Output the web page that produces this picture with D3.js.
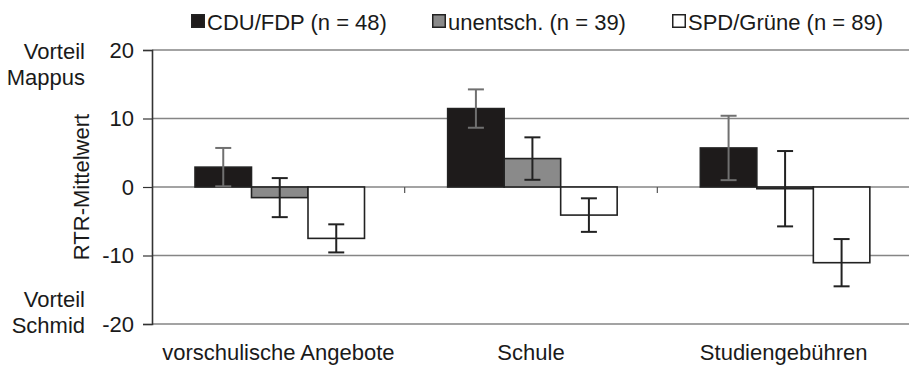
<!DOCTYPE html>
<html><head><meta charset="utf-8">
<script src="https://cdn.jsdelivr.net/npm/d3@7"></script>
<style>body{margin:0;background:#fff}svg{display:block}text{font-family:"Liberation Sans",Arial,sans-serif;fill:#1a1a1a}</style>
</head><body><svg id="c" width="909" height="366"></svg>
<script>
const categories = ["vorschulische Angebote", "Schule", "Studiengebühren"];
const seriesNames = ["CDU/FDP (n = 48)", "unentsch. (n = 39)", "SPD/Grüne (n = 89)"];
const cduValues = [2.9, 11.45, 5.7];
const cduErrors = [2.8, 2.8, 4.7];
const unentschValues = [-1.55, 4.15, -0.25];
const unentschErrors = [2.85, 3.1, 5.5];
const spdValues = [-7.5, -4.1, -11.05];
const spdErrors = [2.05, 2.45, 3.45];
const yTicks = [-20, -10, 0, 10, 20];
const yTickLabels = ["-20", "-10", "0", "10", "20"];

const fills = ["#1e1b1b", "#8a8a8a", "#ffffff"];
const errColors = ["#707070", "#222", "#222"];
const seriesVals = [cduValues, unentschValues, spdValues];
const seriesErrs = [cduErrors, unentschErrors, spdErrors];

const svg = d3.select("#c");
const y = d3.scaleLinear().domain([-20, 20]).range([324, 50]);
const x0 = d3.scaleBand().domain(categories).range([152, 910]).padding(0);
const x1 = d3.scaleBand().domain(seriesNames).range([43, 43 + 169.5]).padding(0);

// gridlines
svg.append("g").selectAll("line").data(yTicks).join("line")
  .attr("x1", 152).attr("x2", 909).attr("y1", d => y(d)).attr("y2", d => y(d))
  .attr("stroke", "#858585").attr("stroke-width", 1.4);

// y axis
const yAxis = d3.axisLeft(y).tickValues(yTicks).tickSize(9).tickPadding(9)
  .tickFormat((d, i) => yTickLabels[i]);
const ga = svg.append("g").attr("transform", "translate(152,0)").call(yAxis);
ga.select(".domain").attr("stroke", "#333").attr("stroke-width", 1.6);
ga.selectAll(".tick line").attr("stroke", "#333").attr("stroke-width", 1.2);
ga.selectAll(".tick text").style("font-size", "22px").attr("fill", "#1a1a1a")
  .style("font-family", "'Liberation Sans', Arial, sans-serif");

// category ticks on zero line
const bounds = categories.map(c => x0(c)).concat([x0(categories[2]) + x0.bandwidth()]);
svg.append("g").selectAll("line").data(bounds.slice(1, 3)).join("line")
  .attr("x1", d => d).attr("x2", d => d).attr("y1", y(0)).attr("y2", y(0) + 6)
  .attr("stroke", "#555").attr("stroke-width", 1.2);

// bars
const data = [];
categories.forEach((c, i) => seriesNames.forEach((s, j) => {
  data.push({c, s, j, v: seriesVals[j][i], e: seriesErrs[j][i]});
}));
svg.append("g").selectAll("rect").data(data).join("rect")
  .attr("x", d => x0(d.c) + x1(d.s))
  .attr("width", x1.bandwidth())
  .attr("y", d => y(Math.max(0, d.v)))
  .attr("height", d => Math.max(1, Math.abs(y(d.v) - y(0))))
  .attr("fill", d => fills[d.j]).attr("stroke", "#222").attr("stroke-width", 1.6);

// error bars
const eg = svg.append("g");
data.forEach(d => {
  const cx = x0(d.c) + x1(d.s) + x1.bandwidth() / 2;
  const col = errColors[d.j];
  const t = y(d.v + d.e), b = y(d.v - d.e);
  eg.append("line").attr("x1", cx).attr("x2", cx).attr("y1", t).attr("y2", b).attr("stroke", col).attr("stroke-width", 2);
  [t, b].forEach(yy => eg.append("line").attr("x1", cx - 8).attr("x2", cx + 8).attr("y1", yy).attr("y2", yy).attr("stroke", col).attr("stroke-width", 2));
});

// x labels
svg.append("g").selectAll("text").data(categories).join("text")
  .attr("x", d => x0(d) + x0.bandwidth() / 2).attr("y", 360)
  .attr("text-anchor", "middle").style("font-size", "22px").text(d => d);

// y title and side labels
svg.append("text").attr("transform", `translate(89,${y(0)}) rotate(-90)`)
  .attr("text-anchor", "middle").style("font-size", "22px").text("RTR-Mittelwert");
[["Vorteil", 59], ["Mappus", 85], ["Vorteil", 307], ["Schmid", 333]].forEach(([t, yy]) =>
  svg.append("text").attr("x", 85).attr("y", yy).attr("text-anchor", "end").style("font-size", "22px").text(t));

// legend
const legX = [191, 432, 672];
const lg = svg.append("g");
seriesNames.forEach((s, j) => {
  lg.append("rect").attr("x", legX[j] + 0.75).attr("y", 14.75).attr("width", 12.5).attr("height", 12.5)
    .attr("fill", fills[j]).attr("stroke", "#222").attr("stroke-width", 1.5);
  lg.append("text").attr("x", legX[j] + 16).attr("y", 30).style("font-size", "22px").text(s);
});
</script></body></html>
